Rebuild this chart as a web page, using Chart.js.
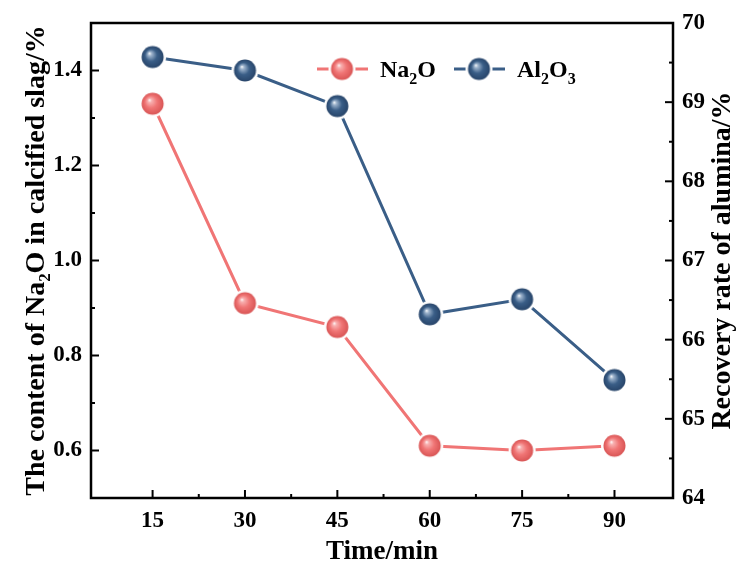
<!DOCTYPE html>
<html><head><meta charset="utf-8">
<script src="https://cdn.jsdelivr.net/npm/chart.js@4/dist/chart.umd.min.js"></script>
<style>html,body{margin:0;padding:0;background:#fff;}#wrap{width:744px;height:574px;position:relative;}</style>
</head><body><div id="wrap"><canvas id="c" width="744" height="574"></canvas></div>
<script>
// ---- data ----
const timeTicks = [15, 30, 45, 60, 75, 90];
const na2oValues = [1.33, 0.91, 0.86, 0.61, 0.60, 0.61];
const al2o3Values = [69.57, 69.40, 68.95, 66.32, 66.51, 65.49];
const leftTicks = [0.6, 0.8, 1.0, 1.2, 1.4];
const rightTicks = [64, 65, 66, 67, 68, 69, 70];
const seriesNames = ['Na₂O', 'Al₂O₃'];

const PINK = '#F07575', PINK_DARK = '#D95555', PINK_LIGHT = '#F8B0B0';
const BLUE = '#3A5E87', BLUE_DARK = '#28456A', BLUE_LIGHT = '#9DB3CC';
const FONT = '"Liberation Serif", "Times New Roman", serif';

function sphere(color, light, dark, r, ring) {
  const s = Math.ceil((r + ring) * 2) + 2;
  const c = document.createElement('canvas');
  c.width = s; c.height = s;
  const g = c.getContext('2d');
  const cx = s / 2, cy = s / 2;
  if (ring > 0) {
    g.fillStyle = '#fff';
    g.beginPath(); g.arc(cx, cy, r + ring, 0, Math.PI * 2); g.fill();
  }
  const grad = g.createRadialGradient(cx - r * 0.3, cy - r * 0.35, 0, cx, cy, r);
  grad.addColorStop(0, '#ffffff');
  grad.addColorStop(0.18, light);
  grad.addColorStop(0.55, color);
  grad.addColorStop(1, dark);
  g.fillStyle = grad;
  g.beginPath(); g.arc(cx, cy, r, 0, Math.PI * 2); g.fill();
  return c;
}
const pinkBall = sphere(PINK, PINK_LIGHT, PINK_DARK, 11, 2.5);
const blueBall = sphere(BLUE, BLUE_LIGHT, BLUE_DARK, 11, 2.5);

function subText(ctx, x, y, parts, size) {
  let cx = x;
  for (const [t, sub] of parts) {
    ctx.font = 'bold ' + (sub ? Math.round(size * 0.65) : size) + 'px ' + FONT;
    ctx.fillText(t, cx, sub ? y + size * 0.28 : y);
    cx += ctx.measureText(t).width;
  }
}

const framePlugin = {
  id: 'frame',
  afterDraw(chart) {
    const {ctx, chartArea: a, scales} = chart;
    ctx.save();
    ctx.strokeStyle = '#000';
    ctx.lineWidth = 2.5;
    ctx.strokeRect(a.left, a.top, a.right - a.left, a.bottom - a.top);
    ctx.lineWidth = 2;
    const xs = scales.x;
    timeTicks.forEach((v, i) => {
      const px = xs.getPixelForValue(v);
      ctx.beginPath(); ctx.moveTo(px, a.bottom); ctx.lineTo(px, a.bottom - 8); ctx.stroke();
      if (i < timeTicks.length - 1) {
        const mx = xs.getPixelForValue((v + timeTicks[i + 1]) / 2);
        ctx.beginPath(); ctx.moveTo(mx, a.bottom); ctx.lineTo(mx, a.bottom - 4); ctx.stroke();
      }
    });
    const ys = scales.y;
    leftTicks.forEach(v => {
      const py = ys.getPixelForValue(v);
      ctx.beginPath(); ctx.moveTo(a.left, py); ctx.lineTo(a.left + 8, py); ctx.stroke();
      const my = ys.getPixelForValue(v + 0.1);
      ctx.beginPath(); ctx.moveTo(a.left, my); ctx.lineTo(a.left + 4, my); ctx.stroke();
    });
    const y1 = scales.y1;
    rightTicks.forEach((v, i) => {
      const py = y1.getPixelForValue(v);
      ctx.beginPath(); ctx.moveTo(a.right, py); ctx.lineTo(a.right - 8, py); ctx.stroke();
      if (i < rightTicks.length - 1) {
        const my = y1.getPixelForValue(v + 0.5);
        ctx.beginPath(); ctx.moveTo(a.right, my); ctx.lineTo(a.right - 4, my); ctx.stroke();
      }
    });
    ctx.fillStyle = '#000';
    ctx.font = 'bold 28px ' + FONT;
    ctx.textAlign = 'center';
    ctx.textBaseline = 'middle';
    ctx.translate(723, (a.top + a.bottom) / 2);
    ctx.rotate(-Math.PI / 2);
    ctx.fillText('Recovery rate of alumina/%', 0, 0);
    ctx.restore();

    ctx.save();
    ctx.lineWidth = 3;
    const ly = 69;
    const items = [
      {x0: 317, ball: pinkBall, color: PINK, parts: [['Na', 0], ['2', 1], ['O', 0]]},
      {x0: 454, ball: blueBall, color: BLUE, parts: [['Al', 0], ['2', 1], ['O', 0], ['3', 1]]}
    ];
    items.forEach(it => {
      ctx.strokeStyle = it.color;
      ctx.beginPath(); ctx.moveTo(it.x0, ly); ctx.lineTo(it.x0 + 51, ly); ctx.stroke();
      ctx.drawImage(it.ball, it.x0 + 25 - it.ball.width / 2, ly - it.ball.height / 2);
      ctx.fillStyle = '#000';
      ctx.textAlign = 'left';
      ctx.textBaseline = 'alphabetic';
      subText(ctx, it.x0 + 63, ly + 8, it.parts, 24);
    });
    ctx.restore();
  }
};

new Chart(document.getElementById('c'), {
  type: 'line',
  data: {
    datasets: [
      {
        label: seriesNames[0],
        data: timeTicks.map((t, i) => ({x: t, y: na2oValues[i]})),
        yAxisID: 'y',
        borderColor: PINK, borderWidth: 3,
        pointStyle: pinkBall, pointRadius: 12,
        fill: false, tension: 0
      },
      {
        label: seriesNames[1],
        data: timeTicks.map((t, i) => ({x: t, y: al2o3Values[i]})),
        yAxisID: 'y1',
        borderColor: BLUE, borderWidth: 3,
        pointStyle: blueBall, pointRadius: 12,
        fill: false, tension: 0
      }
    ]
  },
  options: {
    responsive: false,
    animation: false,
    layout: {padding: {top: 23, left: 0, right: 0, bottom: 0}},
    plugins: {legend: {display: false}, tooltip: {enabled: false}},
    scales: {
      x: {
        type: 'linear', min: 5, max: 99.5,
        afterBuildTicks: s => { s.ticks = timeTicks.map(v => ({value: v})); },
        afterFit: s => { s.height = 76; },
        grid: {display: false, drawTicks: false},
        border: {display: false},
        ticks: {color: '#000', padding: 9, maxRotation: 0, font: {family: FONT, size: 23, weight: 'bold'}},
        title: {display: true, text: 'Time/min', color: '#000', padding: {top: 0, bottom: 6},
                font: {family: FONT, size: 27, weight: 'bold'}}
      },
      y: {
        type: 'linear', position: 'left', min: 0.5, max: 1.5,
        afterBuildTicks: s => { s.ticks = leftTicks.map(v => ({value: v})); },
        afterFit: s => { s.width = 91; },
        grid: {display: false, drawTicks: false},
        border: {display: false},
        ticks: {color: '#000', padding: 9, callback: v => v.toFixed(1), font: {family: FONT, size: 23, weight: 'bold'}},
        title: {display: true, text: 'The content of Na₂O in calcified slag/%', color: '#000', padding: {top: 20, bottom: 0},
                font: {family: FONT, size: 28, weight: 'bold'}}
      },
      y1: {
        type: 'linear', position: 'right', min: 64, max: 70,
        afterBuildTicks: s => { s.ticks = rightTicks.map(v => ({value: v})); },
        afterFit: s => { s.width = 71; },
        grid: {display: false, drawTicks: false},
        border: {display: false},
        ticks: {color: '#000', padding: 9, font: {family: FONT, size: 23, weight: 'bold'}},
        title: {display: false}
      }
    }
  },
  plugins: [framePlugin]
});
</script>
</body></html>
